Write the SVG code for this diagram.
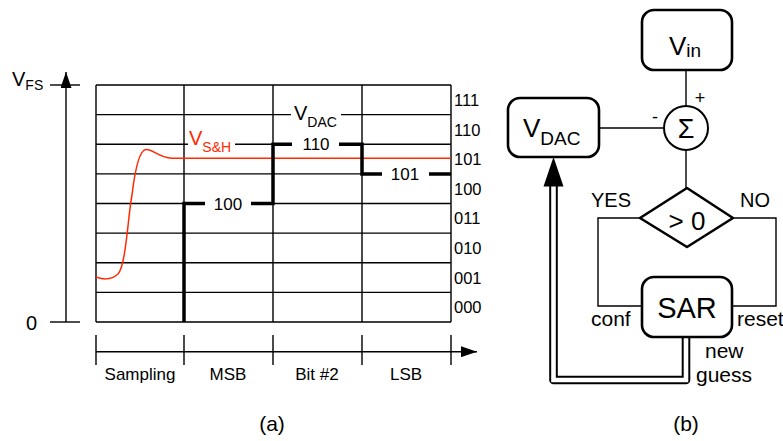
<svg xmlns="http://www.w3.org/2000/svg" width="783" height="441" viewBox="0 0 783 441">
<style>
text{font-family:"Liberation Sans",Arial,Helvetica,sans-serif;fill:#000}
.thin{stroke:#000;stroke-width:1.4;fill:none}
.thick{stroke:#000;stroke-width:3.5;fill:none}
.box{stroke:#000;stroke-width:2.6;fill:#fff}
.red{stroke:#ff2a00;stroke-width:1.5;fill:none}
.lbl{font-size:17px}
.ax{font-size:16.5px}
</style>
<defs>
<marker id="ah" viewBox="0 0 16 11" refX="16" refY="5.5" markerWidth="16" markerHeight="11" markerUnits="userSpaceOnUse" orient="auto">
<path d="M0,0 L16,5.5 L0,11 Z" fill="#000"/>
</marker>
</defs>
<rect width="783" height="441" fill="#fff"/>

<!-- Part (a) -->
<g id="axes">
<line class="thin" x1="66" y1="322" x2="66" y2="72" marker-end="url(#ah)"/>
<line class="thin" x1="50" y1="85" x2="80" y2="85"/>
<line class="thin" x1="50" y1="322" x2="80" y2="322"/>
<text x="12" y="86" style="font-size:20px">V<tspan dy="3.5" style="font-size:14px">FS</tspan></text>
<text x="26" y="330" style="font-size:20px">0</text>
</g>

<g id="grid">
<path class="thin" d="M96,85 H451 M96,114.6 H451 M96,144.25 H451 M96,173.9 H451 M96,203.5 H451 M96,233.1 H451 M96,262.75 H451 M96,292.4 H451 M96,322 H451"/>
<path class="thin" d="M96,85 V322 M184,85 V322 M273,85 V322 M362,85 V322 M451,85 V322"/>
</g>

<g id="vsh">
<rect x="188" y="129" width="47" height="24" fill="#fff"/>
<path class="red" d="M96,277 C102,279 110,281 118,274 C126,266 128,215 132,195 C135,170 139,150 146,149.5 C153,149 158,157.5 172,158.3 L451,158.3"/>
<text x="189" y="145" style="font-size:20px;fill:#ff2a00">V<tspan dy="6.5" style="font-size:14px;fill:#ff2a00">S&amp;H</tspan></text>
</g>

<g id="vdac-trace">
<rect x="291" y="103" width="50" height="25" fill="#fff"/>
<text x="294" y="120" style="font-size:20px">V<tspan dy="6.5" style="font-size:14px">DAC</tspan></text>
<rect x="205" y="196" width="46" height="16" fill="#fff"/>
<rect x="292" y="137" width="47" height="16" fill="#fff"/>
<rect x="382" y="166" width="47" height="16" fill="#fff"/>
<path class="thick" d="M184,322 V203.5 H205 M251,203.5 H273 V144.25 H292 M339,144.25 H362 V173.9 H382 M429,173.9 H451"/>
<text class="lbl" x="228" y="209.7" text-anchor="middle">100</text>
<text class="lbl" x="316" y="150.4" text-anchor="middle">110</text>
<text class="lbl" x="405" y="180.1" text-anchor="middle">101</text>
</g>

<g id="codes" class="ax">
<text x="454" y="105.9">111</text>
<text x="454" y="135.5">110</text>
<text x="454" y="165.1">101</text>
<text x="454" y="194.7">100</text>
<text x="454" y="224.3">011</text>
<text x="454" y="253.9">010</text>
<text x="454" y="283.5">001</text>
<text x="454" y="313.1">000</text>
</g>

<g id="timeline">
<line class="thin" x1="96" y1="351.7" x2="477" y2="351.7" marker-end="url(#ah)"/>
<path class="thin" d="M96,335 V365 M184,335 V365 M273,335 V365 M362,335 V365 M451,335 V365"/>
<text class="lbl" x="140" y="379.5" text-anchor="middle">Sampling</text>
<text class="lbl" x="228" y="379.5" text-anchor="middle">MSB</text>
<text class="lbl" x="317" y="379.5" text-anchor="middle">Bit #2</text>
<text class="lbl" x="406" y="379.5" text-anchor="middle">LSB</text>
</g>
<text x="272" y="431" text-anchor="middle" style="font-size:21px">(a)</text>

<!-- Part (b) -->
<g id="connectors">
<path class="thin" d="M686,70 V106"/>
<path class="thin" d="M599,128 H664"/>
<path class="thin" d="M686,150 V188"/>
<path class="thin" d="M640,218 H598 V306 H642"/>
<path class="thin" d="M733,218 H776 V306 H732"/>
<path d="M686,337 V380 H553.5 V185" fill="none" stroke="#000" stroke-width="8.6" stroke-linejoin="round"/>
<path d="M686,336 V380 H553.5 V184" fill="none" stroke="#fff" stroke-width="4.6" stroke-linejoin="miter"/>
<path d="M553.5,157 L543.5,186.5 L563.5,186.5 Z" fill="#000"/>
</g>

<g id="vin">
<rect class="box" x="642" y="10" width="90" height="60" rx="12"/>
<text x="669" y="55" style="font-size:26px">V<tspan dy="2" style="font-size:19px">in</tspan></text>
</g>

<g id="sum">
<circle cx="686" cy="128" r="22" fill="#fff" stroke="#000" stroke-width="2"/>
<text x="686" y="138" text-anchor="middle" style="font-size:27px">Σ</text>
<text x="700" y="104" text-anchor="middle" style="font-size:18px">+</text>
<text x="655" y="123" text-anchor="middle" style="font-size:18px">-</text>
</g>

<g id="vdac">
<rect class="box" x="508" y="98" width="91" height="59" rx="12"/>
<text x="523" y="136.5" style="font-size:26px">V<tspan dy="8" style="font-size:19px">DAC</tspan></text>
</g>

<g id="cmp">
<path class="box" d="M687,188 L733,218 L687,247 L640,218 Z" stroke-linejoin="round"/>
<text x="687" y="230" text-anchor="middle" style="font-size:26px">&gt; 0</text>
<text x="591" y="206.7" style="font-size:20px">YES</text>
<text x="740" y="206.7" style="font-size:20px">NO</text>
</g>

<g id="sar">
<rect class="box" x="642" y="277" width="90" height="60" rx="12"/>
<text x="687" y="318" text-anchor="middle" style="font-size:29px">SAR</text>
<text x="591" y="326" style="font-size:21px">conf</text>
<text x="737" y="326" style="font-size:21px">reset</text>
<text x="705" y="358" style="font-size:21px">new</text>
<text x="696" y="382" style="font-size:21px">guess</text>
</g>
<text x="686" y="431" text-anchor="middle" style="font-size:21px">(b)</text>
</svg>
